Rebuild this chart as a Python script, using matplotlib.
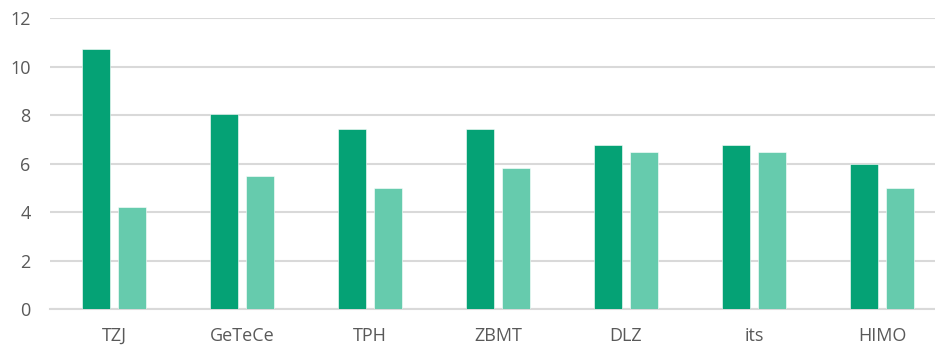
import numpy as np
import matplotlib.pyplot as plt

categories = ['TZJ', 'GeTeCe', 'TPH', 'ZBMT', 'DLZ', 'its', 'HIMO']
series_a = [10.75, 8.05, 7.45, 7.45, 6.75, 6.75, 6.0]
series_b = [4.2, 5.5, 5.0, 5.8, 6.5, 6.5, 5.0]

dark = '#05A275'
light = '#66CBAD'
grey_text = '#595959'
grid_col = '#D9D9D9'

plt.rcParams['font.family'] = ['Open Sans', 'DejaVu Sans']

W, H = 935, 347
fig = plt.figure(figsize=(W / 100, H / 100), dpi=100)
# axes runs a little past the right edge of the figure
left, right = 50, 946
bottom, top = 309, 18.3
ax = fig.add_axes([left / W, (H - bottom) / H, (right - left) / W, (bottom - top) / H])

x = np.arange(len(categories))
bw = 0.221
gap = 0.057
off = (bw + gap) / 2
ax.bar(x - off, series_a, bw, color=dark, edgecolor='white', linewidth=0.4, zorder=3)
ax.bar(x + off, series_b, bw, color=light, edgecolor='white', linewidth=0.4, zorder=3)

ax.set_xlim(-0.5, len(categories) - 0.5)
ax.set_ylim(0, 12)
ax.set_yticks(range(0, 13, 2))
ax.set_xticks(x)
ax.set_xticklabels(categories)
ax.grid(axis='y', color=grid_col, linewidth=1.5, zorder=0)
for s in ['left', 'right', 'top']:
    ax.spines[s].set_visible(False)
ax.spines['bottom'].set_color(grid_col)
ax.spines['bottom'].set_linewidth(1.5)
ax.tick_params(axis='both', length=0, labelsize=13, colors=grey_text)
ax.tick_params(axis='y', pad=14)
ax.tick_params(axis='x', pad=13)

fig.savefig('out.png', dpi=100)
